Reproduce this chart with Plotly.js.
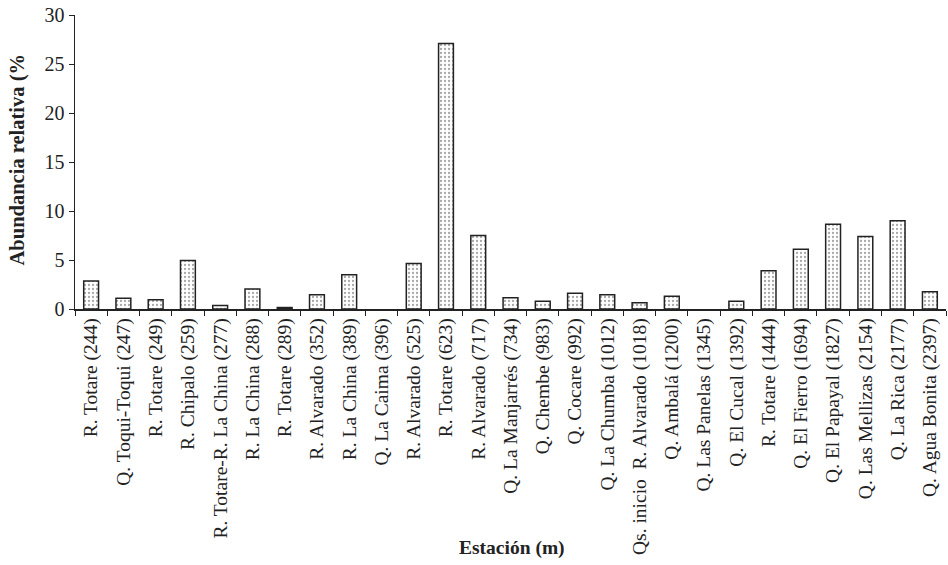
<!DOCTYPE html>
<html>
<head>
<meta charset="utf-8">
<script src="https://cdn.plot.ly/plotly-3.0.1.min.js"></script>
<style>html,body{margin:0;padding:0;background:#fff;}#chart{width:948px;height:565px;}</style>
</head>
<body>
<div id="chart"></div>
<script>
const stations = [
  "R. Totare (244)", "Q. Toqui-Toqui (247)", "R. Totare (249)", "R. Chipalo (259)",
  "R. Totare-R. La China (277)", "R. La China (288)", "R. Totare (289)", "R. Alvarado (352)",
  "R. La China (389)", "Q. La Caima (396)", "R. Alvarado (525)", "R. Totare (623)",
  "R. Alvarado (717)", "Q. La Manjarrés (734)", "Q. Chembe (983)", "Q. Cocare (992)",
  "Q. La Chumba (1012)", "Qs. inicio  R. Alvarado (1018)", "Q. Ambalá (1200)", "Q. Las Panelas (1345)",
  "Q. El Cucal (1392)", "R. Totare (1444)", "Q. El Fierro (1694)", "Q. El Papayal (1827)",
  "Q. Las Mellizas (2154)", "Q. La Rica (2177)", "Q. Agua Bonita (2397)"
];
const abundance = [
  2.85, 1.1, 0.95, 4.95,
  0.35, 2.05, 0.15, 1.45,
  3.5, 0, 4.65, 27.1,
  7.5, 1.15, 0.8, 1.6,
  1.45, 0.65, 1.3, 0,
  0.8, 3.9, 6.1, 8.65,
  7.4, 9.0, 1.75
];
const yTicks = [0, 5, 10, 15, 20, 25, 30];
const yTitle = "Abundancia relativa (%";
const xTitle = "Estación (m)";

const trace = {
  type: "bar",
  x: stations,
  y: abundance,
  width: 0.46,
  marker: {
    color: "#ffffff",
    line: {color: "#222222", width: abundance.map(v => v > 0 ? 1.5 : 0)},
    pattern: {shape: ".", fgcolor: "#a8a8a8", bgcolor: "#ffffff", size: 4, solidity: 0.25}
  },
  hoverinfo: "x+y"
};

const layout = {
  width: 948, height: 565,
  margin: {l: 75, r: 2, t: 15, b: 256},
  paper_bgcolor: "#ffffff", plot_bgcolor: "#ffffff",
  showlegend: false,
  font: {family: "Liberation Serif, Times New Roman, serif", color: "#222"},
  xaxis: {
    type: "category",
    range: [-0.5, stations.length - 0.5],
    showline: true, linecolor: "#222", linewidth: 1.5,
    ticks: "outside", tickson: "boundaries", ticklen: 5, tickcolor: "#222", tickwidth: 1,
    tickangle: -90,
    tickfont: {size: 19.5, family: "Liberation Serif, serif", color: "#222"},
    showgrid: false, zeroline: false, automargin: false
  },
  yaxis: {
    range: [0, 30],
    tickvals: yTicks,
    showline: true, linecolor: "#222", linewidth: 1.5,
    ticks: "outside", ticklen: 5, tickcolor: "#222", tickwidth: 1,
    tickfont: {size: 20, family: "Liberation Serif, serif", color: "#222"},
    showgrid: false, zeroline: false, automargin: false
  },
  annotations: [
    {text: "<b>" + xTitle + "</b>", xref: "paper", yref: "paper", x: 0.502, y: -0.813,
     xanchor: "center", yanchor: "middle", showarrow: false,
     font: {size: 19.5, family: "Liberation Serif, serif", color: "#222"}},
    {text: "<b>" + yTitle + "</b>", xref: "paper", yref: "paper", x: -0.066, y: 0.507,
     xanchor: "center", yanchor: "middle", showarrow: false, textangle: -90,
     font: {size: 20.5, family: "Liberation Serif, serif", color: "#222"}}
  ]
};

Plotly.newPlot("chart", [trace], layout, {displayModeBar: false, staticPlot: true});
</script>
</body>
</html>
